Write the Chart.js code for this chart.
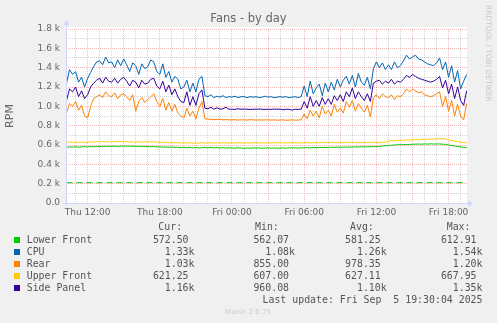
<!DOCTYPE html>
<html lang="en">
  <head>
    <meta charset="UTF-8" />
    <title>Fans - by day</title>
    <script src="https://cdn.jsdelivr.net/npm/chart.js"></script>
    <style>
      html, body { margin: 0; padding: 0; background: #f0f0f0; }
      #wrap { width: 497px; height: 323px; }
    </style>
  </head>
  <body>
    <div id="wrap"><canvas id="fans" width="497" height="323"></canvas></div>
    <script>
      // one sample every 15 min, x = hours since Thu 00:00
      const startHour = 10.25;
      const stepHour = 0.25;

      const lowerFront = [
        575, 580, 578,
        582, 578, 580, 583,  580, 584, 582, 585,  583, 587, 585, 588,  586, 589, 585, 588,
        590, 587, 589, 586,  588, 585, 587, 583,  585, 582, 584, 580,  582, 578, 580, 576,
        578, 575, 577, 573,  576, 572, 575, 570,  574, 568, 572, 575,  571, 575, 570, 573,
        569, 572, 568, 571,  570, 567, 571, 568,  566, 569, 567, 570,  568, 570, 566, 569,
        570, 567, 569, 566,  568, 570, 567, 571,  569, 572, 568, 570,  571, 573, 570, 574,
        572, 575, 573, 576,  574, 577, 575, 578,  576, 579, 577, 580,  578, 581, 579, 582,
        580, 583, 581, 584,  583, 586, 590, 594,  596, 598, 600, 602,  603, 605, 604, 606,
        607, 609, 610, 608,  611, 609, 612, 610,  610, 611, 608, 606,  600, 595, 590, 585,
        580, 576, 573
      ];
      const cpu = [
        1240, 1380, 1330,
        1360, 1250, 1300, 1200,  1290, 1350, 1410, 1460,  1470, 1430, 1510, 1450,  1460, 1400, 1480, 1420,
        1490, 1430, 1360, 1450,  1420, 1330, 1440, 1390,  1410, 1480, 1460, 1360,  1330, 1440, 1300, 1360,
        1250, 1310, 1280, 1180,  1200, 1270, 1150, 1240,  1150, 1280, 1310, 1110,  1100, 1120, 1090, 1105,
        1095, 1110, 1090, 1100,  1095, 1105, 1090, 1100,  1100, 1090, 1100, 1095,  1100, 1090, 1095, 1105,
        1095, 1100, 1090, 1095,  1100, 1095, 1100, 1090,  1095, 1100, 1090, 1100,  1210, 1100, 1260, 1130,
        1190, 1230, 1110, 1240,  1150, 1250, 1170, 1280,  1200, 1270, 1310, 1230,  1320, 1200, 1340, 1250,
        1220, 1300, 1180, 1390,  1460, 1400, 1450, 1380,  1430, 1380, 1460, 1400,  1420, 1470, 1530, 1490,
        1510, 1530, 1490, 1480,  1460, 1440, 1430, 1420,  1450, 1500, 1380, 1460,  1300, 1420, 1250, 1370,
        1180, 1260, 1330
      ];
      const rear = [
        930, 1030, 1000,
        1050, 960, 1010, 900,  880, 1000, 1080, 1100,  1120, 1090, 1150, 1110,  1100, 1140, 1080, 1120,
        1130, 1100, 1060, 1120,  950, 1050, 1090, 1040,  1070, 1100, 1130, 1050,  1000, 1080, 960, 1040,
        950, 1020, 930, 900,  880, 980, 900, 950,  870, 980, 1050, 870,  868, 865, 862, 866,
        864, 860, 863, 860,  860, 862, 858, 860,  860, 858, 862, 860,  858, 860, 858, 860,
        860, 858, 860, 857,  858, 860, 856, 858,  860, 857, 858, 860,  920, 870, 960, 900,
        950, 880, 1000, 920,  960, 900, 1020, 940,  980, 930, 1050, 990,  1060, 950, 1030, 980,
        940, 1010, 890, 1090,  1120, 1080, 1130, 1100,  1090, 1120, 1070, 1110,  1100, 1130, 1180, 1150,
        1180, 1160, 1140, 1150,  1120, 1110, 1100, 1110,  1130, 1150, 1000, 1100,  950, 1060, 900, 1020,
        900, 860, 1030
      ];
      const upperFront = [
        625, 630, 628,
        632, 627, 630, 625,  628, 633, 630, 635,  632, 636, 633, 630,  635, 632, 638, 634,
        632, 636, 630, 633,  630, 634, 628, 632,  635, 630, 633, 628,  630, 626, 629, 624,
        627, 622, 625, 620,  624, 620, 623, 618,  622, 618, 625, 620,  621, 624, 619, 623,
        620, 625, 622, 619,  623, 620, 625, 621,  619, 624, 620, 622,  625, 621, 623, 620,
        624, 620, 622, 626,  621, 624, 620, 623,  625, 621, 624, 620,  622, 626, 621, 624,
        627, 622, 625, 628,  624, 628, 626, 623,  627, 624, 628, 625,  629, 626, 624, 628,
        625, 627, 630, 626,  628, 625, 630, 627,  640, 645, 643, 648,  650, 648, 652, 650,
        654, 656, 653, 657,  658, 660, 662, 660,  665, 663, 667, 662,  655, 648, 640, 635,
        630, 625, 622
      ];
      const sidePanel = [
        1060, 1180, 1150,
        1200, 1100, 1160, 1080,  1120, 1200, 1240, 1270,  1290, 1240, 1300, 1260,  1250, 1290, 1240, 1280,
        1300, 1260, 1210, 1270,  1250, 1190, 1270, 1230,  1240, 1280, 1290, 1210,  1180, 1260, 1150, 1220,
        1120, 1180, 1100, 1050,  1040, 1150, 1010, 1100,  1010, 1130, 1170, 980,  975, 990, 970, 985,
        970, 975, 990, 970,  970, 968, 975, 970,  972, 970, 968, 970,  970, 972, 970, 968,
        970, 968, 972, 970,  970, 965, 970, 968,  962, 970, 968, 970,  1050, 980, 1100, 1000,
        1060, 1000, 1090, 1020,  1080, 1020, 1110, 1060,  1120, 1050, 1150, 1100,  1190, 1080, 1150, 1100,
        1060, 1130, 1050, 1240,  1260, 1270, 1230, 1260,  1240, 1280, 1230, 1260,  1250, 1280, 1320, 1300,
        1330, 1310, 1290, 1280,  1270, 1260, 1250, 1260,  1280, 1310, 1190, 1270,  1130, 1230, 1080, 1200,
        1060, 1010, 1160
      ];
      // dashed limit line
      const limitX = [10.25, 43.3];
      const limitY = [210, 210];

      const names = ["Lower Front", "CPU", "Rear", "Upper Front", "Side Panel"];
      const colors = ["#00cc00", "#0066b3", "#ff8000", "#ffcc00", "#330099"];
      const curVals = ["572.50 ", "1.33k", "1.03k", "621.25 ", "1.16k"];
      const minVals = ["562.07 ", "1.08k", "855.00 ", "607.00 ", "960.08 "];
      const avgVals = ["581.25 ", "1.26k", "978.35 ", "627.11 ", "1.10k"];
      const maxVals = ["612.91 ", "1.54k", "1.20k", "667.95 ", "1.35k"];

      const toPoints = (arr) => arr.map((v, i) => ({ x: startHour + i * stepHour, y: v }));
      const series = [lowerFront, cpu, rear, upperFront, sidePanel];

      const datasets = series.map((s, i) => ({
        label: names[i],
        data: toPoints(s),
        borderColor: colors[i],
        borderWidth: 1,
        pointRadius: 0,
        fill: false,
        tension: 0,
        order: 5 - i,
      }));
      datasets.push({
        label: "limit",
        data: limitX.map((x, i) => ({ x: x, y: limitY[i] })),
        borderColor: "#00cc00",
        borderWidth: 1,
        borderDash: [6, 4],
        pointRadius: 0,
        fill: false,
        order: 9,
      });

      const gridColor = (major) => (ctx) =>
        ctx.tick && Math.round(ctx.tick.value) % major === 0
          ? "rgba(222,79,79,0.4)"
          : "rgba(143,143,143,0.38)";

      const muninDecor = {
        id: "muninDecor",
        beforeDraw(chart) {
          const { ctx, chartArea: a } = chart;
          ctx.save();
          ctx.fillStyle = "#f0f0f0";
          ctx.fillRect(0, 0, chart.width, chart.height);
          ctx.fillStyle = "#ffffff";
          ctx.fillRect(a.left, a.top - 2, a.right - a.left, a.bottom - a.top + 2);
          ctx.restore();
        },
        afterDraw(chart) {
          const { ctx, chartArea: a } = chart;
          ctx.save();
          // axes + arrows
          ctx.strokeStyle = "#cfd6f8";
          ctx.fillStyle = "#cfd6f8";
          ctx.lineWidth = 1;
          ctx.beginPath();
          ctx.moveTo(a.left - 3, a.bottom + 0.5);
          ctx.lineTo(a.right + 2, a.bottom + 0.5);
          ctx.moveTo(a.left + 0.5, a.bottom + 3);
          ctx.lineTo(a.left + 0.5, a.top - 4);
          ctx.stroke();
          ctx.beginPath();
          ctx.moveTo(a.right + 6, a.bottom + 0.5);
          ctx.lineTo(a.right + 1, a.bottom - 2.5);
          ctx.lineTo(a.right + 1, a.bottom + 3.5);
          ctx.fill();
          ctx.beginPath();
          ctx.moveTo(a.left + 0.5, a.top - 9);
          ctx.lineTo(a.left - 2.5, a.top - 4);
          ctx.lineTo(a.left + 3.5, a.top - 4);
          ctx.fill();

          // title
          ctx.fillStyle = "#666666";
          ctx.font = '11.5px "DejaVu Sans"';
          ctx.textAlign = "center";
          ctx.textBaseline = "middle";
          ctx.fillText("Fans - by day", 248.5, 19);

          // side watermark
          ctx.save();
          ctx.translate(484.5, 5);
          ctx.rotate(Math.PI / 2);
          ctx.fillStyle = "#c8c8c8";
          ctx.font = '7.5px "DejaVu Sans"';
          ctx.textAlign = "left";
          ctx.textBaseline = "middle";
          ctx.fillText("RRDTOOL / TOBI OETIKER", 0, -3);
          ctx.restore();

          // legend table
          ctx.font = '9.9px "DejaVu Sans Mono"';
          ctx.fillStyle = "#555555";
          ctx.textBaseline = "middle";
          ctx.textAlign = "left";
          ctx.fillText("Cur:", 158.3, 227.5);
          ctx.fillText("Min:", 255, 227.5);
          ctx.fillText("Avg:", 350, 227.5);
          ctx.fillText("Max:", 446.7, 227.5);
          names.forEach((n, i) => {
            const y = 240 + i * 12;
            ctx.fillStyle = colors[i];
            ctx.fillRect(14, y - 3, 6, 6);
            ctx.fillStyle = "#555555";
            ctx.textAlign = "left";
            ctx.fillText(n, 26.7, y);
            ctx.textAlign = "right";
            ctx.fillText(curVals[i], 194.5, y);
            ctx.fillText(minVals[i], 295, y);
            ctx.fillText(avgVals[i], 386.7, y);
            ctx.fillText(maxVals[i], 482.5, y);
          });
          ctx.textAlign = "right";
          ctx.fillText("Last update: Fri Sep  5 19:30:04 2025", 482.5, 300);

          // footer
          ctx.font = '7px "DejaVu Sans"';
          ctx.fillStyle = "#cccccc";
          ctx.textAlign = "center";
          ctx.fillText("Munin 2.0.75", 248, 311.7);
          ctx.restore();
        },
      };

      const pad2 = (n) => (n < 10 ? "0" + n : "" + n);

      new Chart(document.getElementById("fans").getContext("2d"), {
        type: "line",
        data: { datasets: datasets },
        options: {
          responsive: false,
          animation: false,
          devicePixelRatio: 1,
          layout: { padding: { left: 0, right: 30, top: 29, bottom: 0 } },
          plugins: { legend: { display: false }, tooltip: { enabled: false } },
          scales: {
            x: {
              type: "linear",
              min: 10.205,
              max: 43.53,
              afterFit: (s) => { s.height = 120; },
              ticks: {
                stepSize: 1,
                includeBounds: false,
                autoSkip: false,
                maxRotation: 0,
                padding: 4,
                color: "#666666",
                font: { family: "DejaVu Sans", size: 9 },
                callback: (v) => {
                  const h = Math.round(v);
                  if (h % 6 !== 0) return "";
                  return (h < 24 ? "Thu " : "Fri ") + pad2(h % 24) + ":00";
                },
              },
              grid: { color: gridColor(3), drawTicks: false, lineWidth: 1 },
              border: { display: false, dash: [1, 1] },
            },
            y: {
              min: 0,
              max: 1800,
              afterFit: (s) => { s.width = 66; },
              ticks: {
                stepSize: 100,
                autoSkip: false,
                padding: 6,
                color: "#666666",
                font: { family: "DejaVu Sans", size: 9 },
                callback: (v) => {
                  if (Math.round(v) % 200 !== 0) return "";
                  return v === 0 ? "0.0" : (v / 1000).toFixed(1) + " k";
                },
              },
              grid: { color: gridColor(200), drawTicks: false, lineWidth: 1 },
              border: { display: false, dash: [1, 1] },
              title: {
                display: true,
                text: "RPM",
                color: "#666666",
                font: { family: "DejaVu Sans", size: 11 },
                padding: { top: 4, bottom: 0 },
              },
            },
          },
        },
        plugins: [muninDecor],
      });
    </script>
  </body>
</html>
